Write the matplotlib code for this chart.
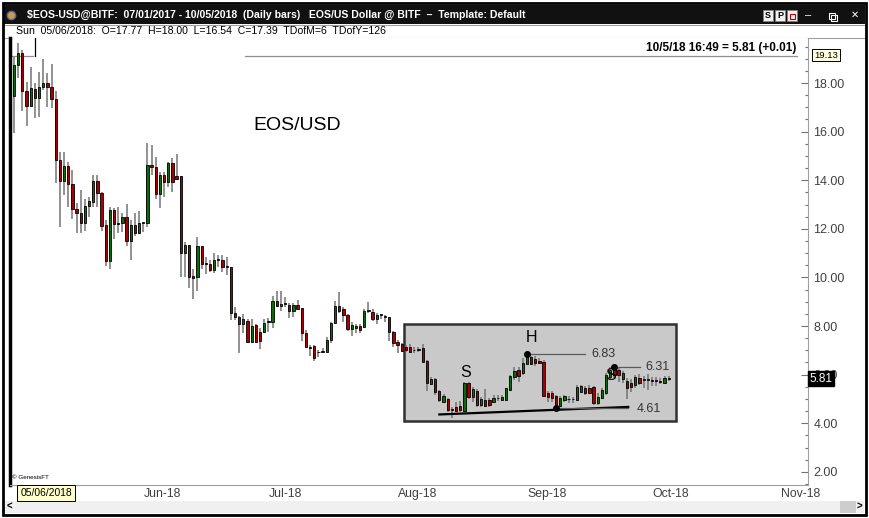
#!/usr/bin/env python3
import datetime as dt
from matplotlib import pyplot as plt
import matplotlib as mpl
import matplotlib.dates as mdates
import numpy as np

W, H = 869, 518

start = dt.date(2018, 5, 1)

opens = [17.47, 18.74, 19.25, 17.68, 17.05, 17.77, 17.40, 17.82, 17.99, 17.82,
         17.33, 14.83, 13.98, 14.60, 13.84, 12.80, 12.66, 12.25, 12.94, 13.12,
         13.98, 13.46, 12.14, 10.69, 12.77, 12.25, 12.23, 12.47, 11.51, 12.16,
         11.84, 12.23, 12.23, 14.63, 14.56, 13.43, 14.21, 13.94, 14.70, 14.17,
         14.17, 11.00, 11.33, 10.05, 10.00, 11.29, 10.55, 10.55, 10.30, 10.72,
         10.72, 10.44, 10.42, 8.55, 8.38, 8.08, 8.22, 7.35, 8.04, 7.77,
         7.77, 8.16, 8.18, 9.03, 8.84, 8.92, 8.86, 8.63, 8.86, 8.73,
         7.72, 7.15, 7.18, 6.92, 6.94, 6.94, 7.42, 8.11, 8.82, 8.69,
         8.45, 7.86, 7.90, 8.00, 7.95, 8.62, 8.59, 8.28, 8.45, 8.38,
         8.36, 7.77, 7.35, 7.26, 7.15, 7.15, 7.00, 7.03, 7.08, 6.57,
         5.61, 5.80, 5.34, 4.89, 4.98, 4.54, 4.65, 4.70, 4.52, 5.64,
         5.07, 5.34, 4.75, 4.95, 4.95, 4.89, 5.02, 4.95, 4.95, 5.37,
         5.89, 6.19, 6.05, 6.44, 6.71, 6.64, 6.58, 6.53, 5.26, 5.26,
         5.10, 4.71, 4.96, 4.98, 4.98, 4.95, 5.30, 5.45, 5.45, 5.51,
         4.85, 5.03, 5.26, 5.92, 6.22, 6.19, 5.80, 5.75, 5.67, 5.57,
         5.85, 5.80, 5.79, 5.76, 5.76, 5.72, 5.67, 5.83]
highs = [19.08, 19.66, 19.36, 18.05, 18.67, 18.00, 18.47, 18.98, 18.42, 18.78,
         17.68, 15.15, 15.15, 14.76, 14.42, 13.07, 13.60, 13.21, 13.32, 14.21,
         14.21, 13.50, 12.36, 12.88, 12.84, 12.88, 12.64, 13.02, 12.36, 12.66,
         12.75, 12.25, 15.54, 15.45, 14.94, 14.35, 14.35, 14.76, 14.90, 15.08,
         14.17, 11.47, 11.33, 10.33, 11.65, 11.30, 10.83, 10.72, 11.00, 10.92,
         10.92, 10.85, 10.44, 8.77, 8.41, 8.49, 8.28, 8.28, 8.08, 7.91,
         8.28, 8.32, 9.23, 9.45, 9.45, 9.21, 8.96, 8.96, 9.05, 8.73,
         7.83, 7.22, 7.22, 7.01, 7.08, 7.53, 8.18, 9.04, 9.41, 8.77,
         8.49, 8.18, 8.08, 8.08, 8.69, 9.00, 8.69, 8.52, 8.49, 8.45,
         8.38, 7.80, 7.42, 7.31, 7.22, 7.26, 7.15, 7.12, 7.26, 6.60,
         5.91, 5.85, 5.37, 5.20, 5.03, 4.65, 4.86, 4.90, 5.71, 5.71,
         5.48, 5.40, 5.07, 5.40, 5.03, 5.15, 5.15, 5.15, 5.44, 6.00,
         6.32, 6.32, 6.67, 6.83, 6.78, 6.75, 6.70, 6.60, 5.34, 5.34,
         5.15, 5.10, 5.18, 5.10, 5.07, 5.58, 5.58, 5.55, 5.58, 5.55,
         5.23, 5.44, 6.08, 6.30, 6.31, 6.26, 6.13, 5.85, 5.80, 6.00,
         6.04, 5.94, 6.04, 5.89, 5.89, 5.84, 5.94, 5.94]
lows = [15.94, 18.19, 16.86, 16.23, 17.02, 16.54, 16.61, 17.71, 17.00, 16.96,
        13.90, 12.06, 13.39, 12.91, 12.39, 11.84, 11.84, 11.92, 12.50, 12.91,
        12.91, 11.92, 10.47, 10.33, 11.57, 11.84, 11.88, 11.29, 10.72, 11.70,
        11.79, 11.88, 12.09, 14.21, 13.21, 12.84, 13.32, 13.73, 13.53, 14.00,
        10.03, 10.00, 9.55, 9.10, 9.45, 10.33, 10.14, 10.23, 10.17, 10.44,
        10.23, 10.10, 8.25, 8.25, 6.90, 7.70, 7.31, 7.29, 7.29, 7.04,
        7.72, 7.77, 7.91, 8.77, 8.63, 8.77, 8.32, 8.38, 8.66, 7.40,
        7.08, 6.77, 6.57, 6.74, 6.88, 6.90, 7.31, 8.08, 8.55, 8.18,
        7.80, 7.59, 7.72, 7.72, 7.91, 8.52, 8.22, 8.08, 8.30, 8.18,
        7.40, 7.12, 6.88, 6.94, 6.94, 6.90, 6.90, 6.94, 6.49, 5.34,
        5.57, 5.16, 4.89, 4.86, 4.48, 4.20, 4.48, 4.48, 4.48, 4.98,
        4.86, 4.65, 4.65, 4.65, 4.65, 4.86, 4.92, 4.92, 4.92, 5.34,
        5.76, 5.71, 6.00, 6.40, 6.40, 6.36, 6.42, 5.07, 4.89, 4.89,
        4.61, 4.65, 4.89, 4.84, 4.82, 4.92, 5.23, 5.17, 5.20, 4.75,
        4.75, 4.98, 5.15, 5.76, 5.85, 5.71, 5.67, 4.98, 5.30, 5.44,
        5.57, 5.44, 5.35, 5.53, 5.55, 5.61, 5.62, 5.75]
closes = [18.74, 19.25, 17.68, 17.05, 17.78, 17.39, 17.82, 17.99, 17.82, 17.33,
          14.83, 13.98, 14.60, 13.84, 12.80, 12.66, 12.25, 12.94, 13.14, 13.98,
          13.46, 12.12, 10.69, 12.77, 12.20, 12.20, 12.47, 11.51, 12.16, 11.84,
          12.23, 12.27, 14.63, 14.56, 13.43, 14.21, 13.94, 14.70, 13.94, 14.04,
          11.00, 11.33, 10.00, 9.98, 11.29, 10.55, 10.58, 10.30, 10.72, 10.74,
          10.44, 10.42, 8.55, 8.38, 8.08, 8.28, 7.35, 8.00, 7.35, 7.40,
          8.14, 8.18, 9.03, 8.82, 8.92, 8.94, 8.63, 8.86, 8.69, 7.70,
          7.12, 7.08, 6.67, 6.94, 6.96, 7.42, 8.11, 8.82, 8.63, 8.45,
          7.86, 8.04, 8.02, 7.84, 8.63, 8.64, 8.28, 8.45, 8.46, 8.39,
          7.77, 7.31, 7.22, 6.98, 7.02, 6.94, 7.02, 7.05, 6.53, 5.64,
          5.80, 5.30, 4.95, 5.12, 4.54, 4.56, 4.52, 4.56, 5.64, 5.07,
          5.40, 4.75, 4.98, 4.71, 4.75, 5.03, 5.04, 5.07, 5.44, 5.94,
          6.16, 5.94, 6.47, 6.71, 6.44, 6.48, 6.46, 5.12, 5.07, 5.03,
          4.65, 5.03, 5.10, 5.00, 5.00, 5.51, 5.53, 5.23, 5.26, 4.85,
          5.07, 5.37, 6.00, 6.19, 5.98, 5.98, 6.05, 5.44, 5.51, 5.89,
          5.67, 5.78, 5.80, 5.75, 5.74, 5.71, 5.85, 5.81]

y_ticks = [2, 4, 6, 8, 10, 12, 14, 16, 18]
month_ticks = [dt.date(2018, m, 1) for m in range(6, 12)]

# head and shoulders markup
head = (123, 6.83)
shoulder_r = (144, 6.31)
neck_low = (130, 4.61)
neckline = [(102, 4.36), (147.3, 4.67)]


def fx(x):
    return x / W


def fy(y):
    return 1 - y / H


def day(d):
    return mdates.date2num(start) + d


fig = plt.figure(figsize=(W / 100, H / 100), dpi=100, facecolor="white")
plt.rcParams["font.family"] = ["Liberation Sans", "DejaVu Sans"]

# window chrome
fig.patches.append(mpl.patches.Rectangle((fx(3), fy(515)), fx(863), 512 / H, transform=fig.transFigure,
                                         facecolor="none", edgecolor="black", lw=2, zorder=5))
fig.patches.append(mpl.patches.Rectangle((fx(4), fy(24)), fx(861), 19 / H, transform=fig.transFigure,
                                         facecolor="#111111", edgecolor="none", zorder=1))
fig.add_artist(plt.Line2D([fx(4), fx(865)], [fy(25), fy(25)], color="#a0a0a0", lw=0.8))
fig.add_artist(plt.Line2D([fx(4), fx(865)], [fy(38), fy(38)], color="#a0a0a0", lw=0.8))
fig.add_artist(plt.Line2D([fx(11)], [fy(15)], marker="o", ms=6, color="#c8a040", mec="#6060c0"))
fig.text(fx(27), fy(15), "$EOS-USD@BITF:  07/01/2017 - 10/05/2018  (Daily bars)   EOS/US Dollar @ BITF  \u2013  Template: Default",
         color="white", fontsize=7.6, fontweight="bold", va="center", ha="left")
for i, lab in enumerate(["S", "P", ""]):
    x0 = 763 + i * 12
    fig.patches.append(mpl.patches.Rectangle((fx(x0), fy(21)), fx(10), 11 / H, transform=fig.transFigure,
                                             facecolor="#f0f0f0", edgecolor="#808080", lw=0.6, zorder=2))
    fig.text(fx(x0 + 5), fy(15.5), lab, fontsize=6.5, fontweight="bold", ha="center", va="center", zorder=3)
fig.patches.append(mpl.patches.Rectangle((fx(790), fy(19)), fx(5), 5 / H, transform=fig.transFigure,
                                         facecolor="none", edgecolor="#c00000", lw=0.8, zorder=3))
fig.text(fx(808), fy(15), "\u2013", color="white", fontsize=8, ha="center", va="center")
fig.patches.append(mpl.patches.Rectangle((fx(829), fy(19)), fx(6), 6 / H, transform=fig.transFigure,
                                         facecolor="none", edgecolor="white", lw=0.8, zorder=3))
fig.patches.append(mpl.patches.Rectangle((fx(831), fy(21)), fx(6), 6 / H, transform=fig.transFigure,
                                         facecolor="none", edgecolor="white", lw=0.8, zorder=3))
fig.text(fx(855), fy(15), "\u2715", color="white", fontsize=7, ha="center", va="center",
         family=["DejaVu Sans"])
fig.text(fx(16), fy(31.5), "Sun  05/06/2018:  O=17.77  H=18.00  L=16.54  C=17.39  TDofM=6  TDofY=126",
         fontsize=7.6, va="center", ha="left")

# scrollbar
fig.patches.append(mpl.patches.Rectangle((fx(5), fy(513)), fx(859), 12 / H, transform=fig.transFigure,
                                         facecolor="#f0f0f0", edgecolor="none", zorder=1))
fig.patches.append(mpl.patches.Rectangle((fx(840), fy(513)), fx(16), 12 / H, transform=fig.transFigure,
                                         facecolor="#cdcdcd", edgecolor="none", zorder=2))
fig.text(fx(9), fy(507), "<", fontsize=7, fontweight="bold", ha="center", va="center")
fig.text(fx(859), fy(507), ">", fontsize=7, fontweight="bold", ha="center", va="center")

ax = fig.add_axes([fx(10), fy(485), fx(798), 447 / H])
ax.set_zorder(2)
ax.set_facecolor("white")

x = np.array([day(i) for i in range(len(opens))])
o = np.array(opens)
c = np.array(closes)
bottoms = np.minimum(o, c)
heights = np.maximum(np.abs(c - o), 0.03)
colors = np.where(c >= o, "#0b6b0b", "#a80000")

ax.vlines(x, lows, highs, color="#747474", lw=1.1, zorder=3)
ax.bar(x, heights, bottom=bottoms, width=0.55, color=colors, edgecolor="black", lw=0.6, zorder=4)

# pattern box
ax.add_patch(mpl.patches.Rectangle((day(93.5), 4.09), 65.3, 3.99, facecolor="#c9c9c9",
                                   edgecolor="#303030", lw=1.8, zorder=1))
ax.plot([day(neckline[0][0]), day(neckline[1][0])], [neckline[0][1], neckline[1][1]],
        color="black", lw=1.6, zorder=5)
ax.plot([day(head[0]), day(136.9)], [head[1], head[1]], color="#5a5a5a", lw=0.9, zorder=5)
ax.plot([day(shoulder_r[0]), day(150.1)], [shoulder_r[1], shoulder_r[1]], color="#5a5a5a", lw=0.9, zorder=5)
ax.plot([day(neck_low[0]), day(147.2)], [neck_low[1], neck_low[1]], color="#5a5a5a", lw=0.9, zorder=5)
for px, py in [head, shoulder_r, neck_low]:
    ax.plot(day(px), py, "o", color="black", ms=4, zorder=6)
ax.text(day(138.4), head[1], "6.83", fontsize=9, color="#333333", va="center", ha="left", zorder=6)
ax.text(day(151.3), shoulder_r[1], "6.31", fontsize=9, color="#333333", va="center", ha="left", zorder=6)
ax.text(day(149.4), 4.58, "4.61", fontsize=9, color="#333333", va="center", ha="left", zorder=6)
ax.text(day(124), 7.51, "H", fontsize=11.5, va="center", ha="center", zorder=6)
ax.text(day(108.2), 6.07, "S", fontsize=11.5, va="center", ha="center", zorder=6)
ax.text(day(143), 5.98, "S", fontsize=11.5, va="center", ha="center", zorder=7)
ax.text(day(57.3), 16.27, "EOS/USD", fontsize=14, va="center", ha="left")

# cursor
ax.plot([day(-1), day(4.6)], [19.13, 19.13], color="#909090", lw=0.9)
ax.plot([day(55.4), day(187.7)], [19.13, 19.13], color="#909090", lw=0.9)
ax.plot([day(5), day(5)], [19.13, 19.9], color="black", lw=0.9)
ax.text(day(187.7), 19.45, "10/5/18 16:49 = 5.81 (+0.01)", fontsize=8.5, fontweight="bold",
        ha="right", va="center")
ax.text(day(-0.5), 1.65, "\u00a9 GenesisFT", fontsize=4.5, ha="left", va="bottom")

ax.set_xlim(day(-0.959), day(190.41))
ax.set_ylim(1.457, 19.852)

ax.yaxis.tick_right()
ax.set_yticks(y_ticks)
ax.set_yticklabels(["%.2f" % v for v in y_ticks])
ax.yaxis.set_minor_locator(mpl.ticker.MultipleLocator(0.5))
ax.tick_params(axis="y", which="major", direction="in", length=5, width=0.8, color="#707070",
               labelsize=9, labelcolor="#404040", pad=4)
ax.tick_params(axis="y", which="minor", direction="in", length=2.2, width=0.8, color="#707070")

ax.set_xticks([mdates.date2num(m) for m in month_ticks])
ax.set_xticklabels([m.strftime("%b-%y") for m in month_ticks], ha="left")
ax.tick_params(axis="x", length=0, labelsize=8.8, labelcolor="#404040", pad=2)

for side in ["top"]:
    ax.spines[side].set_visible(False)
ax.spines["right"].set_color("#a0a0a0")
ax.spines["bottom"].set_color("#a0a0a0")
ax.spines["left"].set_color("black")
ax.spines["left"].set_linewidth(2.5)

# axis value boxes
fig.text(fx(826), fy(55), "19.13", fontsize=6.8, ha="center", va="center", zorder=6,
         bbox=dict(boxstyle="square,pad=0.2", facecolor="#ffffe0", edgecolor="black", lw=0.7))
fig.text(fx(821), fy(378.5), "5.81", fontsize=8.5, color="white", ha="center", va="center", zorder=6,
         bbox=dict(boxstyle="square,pad=0.15", facecolor="black", edgecolor="black"))
fig.text(fx(46), fy(493), "05/06/2018", fontsize=7.4, ha="center", va="center", zorder=6,
         bbox=dict(boxstyle="square,pad=0.3", facecolor="#ffffcc", edgecolor="black", lw=0.7))

fig.savefig("out.png", dpi=100)
